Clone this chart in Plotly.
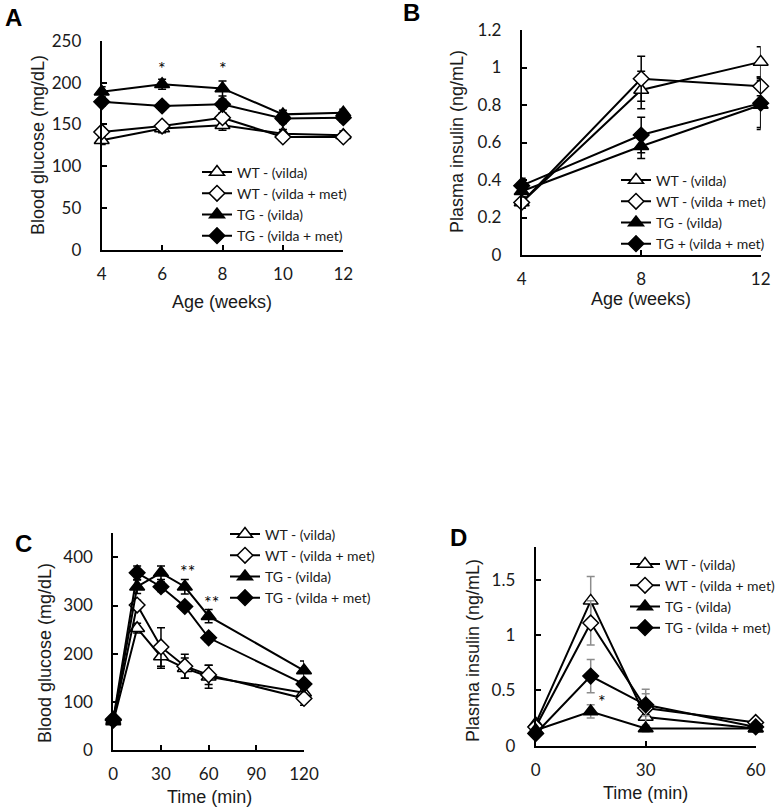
import plotly.graph_objects as go

W, H = 779, 809

# ---------------- data ----------------
names_A = ["WT - (vilda)", "WT - (vilda + met)", "TG - (vilda)", "TG - (vilda + met)"]
names_B = ["WT - (vilda)", "WT - (vilda + met)", "TG - (vilda)", "TG + (vilda + met)"]

A_weeks = [4, 6, 8, 10, 12]
A_wt_vilda = [131, 145, 149, 139, 137]
A_wt_met = [141, 148, 158, 135, 135]
A_tg_vilda = [189, 198, 193, 162, 164]
A_tg_met = [177, 172, 174, 157, 158]
A_err_wt_vilda = [5, 5, 6, 5, 5]
A_err_wt_met = [5, 5, 6, 5, 5]
A_err_tg_vilda = [6, 6, 9, 5, 4]
A_err_tg_met = [5, 5, 6, 6, 5]

B_weeks = [4, 8, 12]
B_wt_vilda = [0.28, 0.88, 1.03]
B_wt_met = [0.28, 0.94, 0.90]
B_tg_vilda = [0.34, 0.58, 0.80]
B_tg_met = [0.37, 0.64, 0.81]
B_err_wt_vilda = [0.03, 0.10, 0.08]
B_err_wt_met = [0.03, 0.12, 0.05]
B_err_tg_vilda = [0.03, 0.065, 0.13]
B_err_tg_met = [0.04, 0.095, 0.13]

C_time = [0, 15, 30, 45, 60, 120]
C_wt_vilda = [59, 253, 194, 170, 152, 119]
C_wt_met = [62, 301, 214, 174, 156, 107]
C_tg_vilda = [62, 339, 368, 339, 278, 165]
C_tg_met = [64, 368, 339, 298, 233, 137]
C_err_wt_vilda = [5, 10, 24, 21, 24, 8]
C_err_wt_met = [5, 10, 40, 25, 20, 14]
C_err_tg_vilda = [5, 14, 14, 15, 14, 20]
C_err_tg_met = [5, 14, 10, 8, 8, 8]

D_time = [0, 15, 30, 60]
D_wt_vilda = [0.20, 1.31, 0.26, 0.156]
D_wt_met = [0.17, 1.11, 0.34, 0.21]
D_tg_vilda = [0.14, 0.31, 0.156, 0.156]
D_tg_met = [0.11, 0.63, 0.37, 0.17]
D_err_wt_vilda = [0.03, 0.22, 0.10, 0.03]
D_err_wt_met = [0.03, 0.20, 0.17, 0.03]
D_err_tg_vilda = [0.02, 0.06, 0.03, 0.03]
D_err_tg_met = [0.02, 0.15, 0.10, 0.03]

# ---------------- styles ----------------
TICK_FONT = dict(family="Lato, 'Open Sans', sans-serif", size=17, color="#1a1a1a")
LEG_FONT = dict(family="Lato, 'Open Sans', sans-serif", size=14, color="#1a1a1a")
TITLE_FONT = dict(family="'Liberation Sans', Arial, sans-serif", size=18, color="#1a1a1a")

symbols = ["triangle-up", "diamond", "triangle-up", "diamond"]
fills = ["white", "white", "black", "black"]
sizes = [13, 12, 13, 12]

def px_x(p):
    return p / W

def px_y(p):
    return 1 - p / H

fig = go.Figure()

def add_panel(xs, ys_list, errs_list, names, xa, ya, legend, err_color):
    for i, (ys, es) in enumerate(zip(ys_list, errs_list)):
        fig.add_trace(go.Scatter(
            x=xs, y=ys, name=names[i], mode="lines+markers",
            xaxis=xa, yaxis=ya, legend=legend, legendgroup=legend + str(i),
            line=dict(color="black", width=2),
            marker=dict(symbol=symbols[i], size=sizes[i], color=fills[i],
                        line=dict(color="black", width=1.5)),
            error_y=dict(type="data", array=es, visible=True, color=err_color,
                         thickness=1.5, width=4),
            cliponaxis=False,
        ))

add_panel(A_weeks, [A_wt_vilda, A_wt_met, A_tg_vilda, A_tg_met],
          [A_err_wt_vilda, A_err_wt_met, A_err_tg_vilda, A_err_tg_met],
          names_A, "x", "y", "legend", "black")
add_panel(B_weeks, [B_wt_vilda, B_wt_met, B_tg_vilda, B_tg_met],
          [B_err_wt_vilda, B_err_wt_met, B_err_tg_vilda, B_err_tg_met],
          names_B, "x2", "y2", "legend2", "black")
add_panel(C_time, [C_wt_vilda, C_wt_met, C_tg_vilda, C_tg_met],
          [C_err_wt_vilda, C_err_wt_met, C_err_tg_vilda, C_err_tg_met],
          names_A, "x3", "y3", "legend3", "black")
add_panel(D_time, [D_wt_vilda, D_wt_met, D_tg_vilda, D_tg_met],
          [D_err_wt_vilda, D_err_wt_met, D_err_tg_vilda, D_err_tg_met],
          names_A, "x4", "y4", "legend4", "#8c8c8c")

def xaxis(domain, rng, tickvals, anchor):
    return dict(domain=domain, range=rng, tickvals=tickvals, anchor=anchor,
                showline=True, linecolor="black", linewidth=2, ticks="inside",
                ticklen=5, tickwidth=2, tickcolor="black", showgrid=False,
                zeroline=False, tickfont=TICK_FONT, ticklabelstandoff=8,
                automargin=False, fixedrange=True)

def yaxis(domain, rng, tickvals, anchor):
    return dict(domain=domain, range=rng, tickvals=tickvals, anchor=anchor,
                showline=True, linecolor="black", linewidth=2, ticks="inside",
                ticklen=5, tickwidth=2, tickcolor="black", showgrid=False,
                zeroline=False, tickfont=TICK_FONT, ticklabelstandoff=15,
                automargin=False, fixedrange=True)

# panel pixel boxes
A_box = (101.7, 343.3, 40.7, 250)
B_box = (521.7, 760.7, 30, 255)
C_box = (113.3, 304, 533.3, 750)
D_box = (535.7, 755.7, 546.7, 745.7)

def dom(box):
    x0, x1, y0, y1 = box
    return [px_x(x0), px_x(x1)], [px_y(y1), px_y(y0)]

Ax, Ay = dom(A_box)
Bx, By = dom(B_box)
Cx, Cy = dom(C_box)
Dx, Dy = dom(D_box)

def legend_cfg(xp, yp):
    return dict(x=px_x(xp), y=px_y(yp), xanchor="left", yanchor="middle",
                bgcolor="rgba(0,0,0,0)", font=LEG_FONT, tracegroupgap=0,
                itemwidth=30)

fig.update_layout(
    width=W, height=H, margin=dict(l=0, r=0, t=0, b=0, autoexpand=False),
    paper_bgcolor="white", plot_bgcolor="white",
    xaxis=xaxis(Ax, [4, 12], [4, 6, 8, 10, 12], "y"),
    yaxis=yaxis(Ay, [0, 250], [0, 50, 100, 150, 200, 250], "x"),
    xaxis2=xaxis(Bx, [4, 12], [4, 8, 12], "y2"),
    yaxis2=yaxis(By, [0, 1.2], [0, 0.2, 0.4, 0.6, 0.8, 1.0, 1.2], "x2"),
    xaxis3=xaxis(Cx, [0, 120], [0, 30, 60, 90, 120], "y3"),
    yaxis3=yaxis(Cy, [0, 450], [0, 100, 200, 300, 400], "x3"),
    xaxis4=xaxis(Dx, [0, 60], [0, 30, 60], "y4"),
    yaxis4=yaxis(Dy, [0, 1.8], [0, 0.5, 1, 1.5], "x4"),
    legend=legend_cfg(197, 204),
    legend2=legend_cfg(616, 212),
    legend3=legend_cfg(225, 566),
    legend4=legend_cfg(625, 596),
    showlegend=True,
)

annots = []
# panel letters
for txt, xp, yp in [("A", 13, 18), ("B", 411, 12), ("C", 23, 543), ("D", 458, 537)]:
    annots.append(dict(text="<b>%s</b>" % txt, x=px_x(xp), y=px_y(yp), xref="paper", yref="paper",
                       showarrow=False, font=dict(family="'Liberation Sans', Arial", size=24, color="black"),
                       xanchor="center", yanchor="middle"))
# axis titles
for txt, xp, yp, ang in [
    ("Age (weeks)", 222, 302, 0), ("Blood glucose (mg/dL)", 38, 145, -90),
    ("Age (weeks)", 641, 299, 0), ("Plasma insulin (ng/mL)", 457, 142, -90),
    ("Time (min)", 209, 797, 0), ("Blood glucose (mg/dL)", 45, 653, -90),
    ("Time (min)", 645, 793, 0), ("Plasma insulin (ng/mL)", 473, 651, -90),
]:
    annots.append(dict(text=txt, x=px_x(xp), y=px_y(yp), xref="paper", yref="paper",
                       showarrow=False, font=TITLE_FONT, textangle=ang,
                       xanchor="center", yanchor="middle"))
# significance marks
for txt, xv, yv, xr, yr in [
    ("*", 6, 217, "x", "y"), ("*", 8, 217, "x", "y"),
    ("**", 47, 372, "x3", "y3"), ("**", 62, 308, "x3", "y3"),
    ("*", 18, 0.40, "x4", "y4"),
]:
    annots.append(dict(text=txt, x=xv, y=yv, xref=xr, yref=yr, showarrow=False,
                       font=dict(family="Lato", size=18, color="black"),
                       xanchor="center", yanchor="middle"))
fig.update_layout(annotations=annots)

fig.write_html(
    "out.html",
    config={"displayModeBar": False, "responsive": False},
    post_script="document.body.style.margin='0';document.body.style.padding='0';document.body.style.overflow='hidden';",
)
